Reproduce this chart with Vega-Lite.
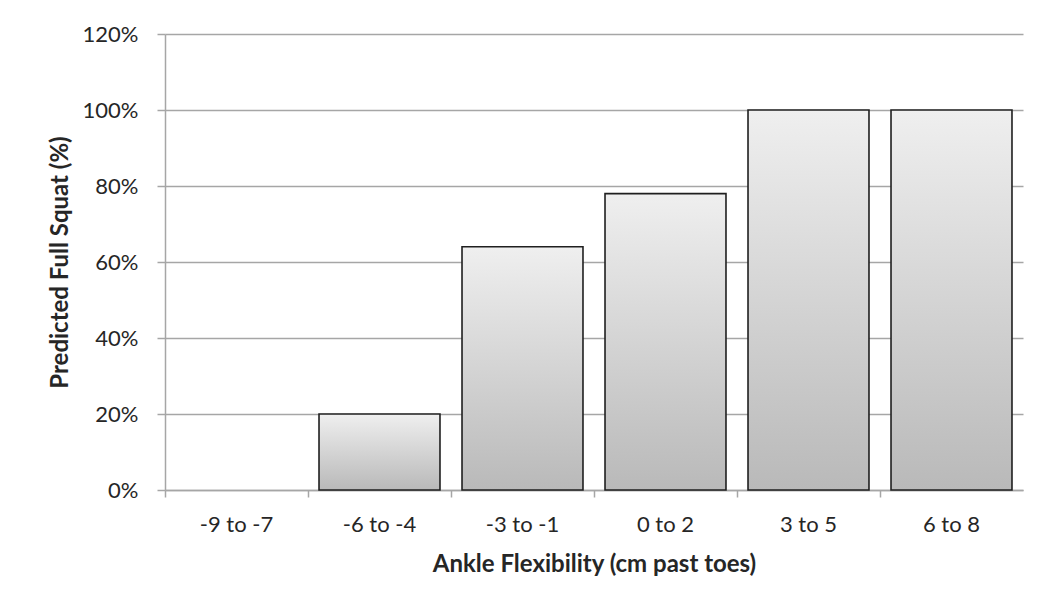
{
  "$schema": "https://vega.github.io/schema/vega-lite/v6.json",
  "width": 858,
  "height": 456,
  "autosize": "none",
  "padding": {"left": 165, "top": 34, "right": 20, "bottom": 121},
  "background": "#ffffff",
  "data": {
    "values": [
      {"range": "-9 to -7", "pct": 0},
      {"range": "-6 to -4", "pct": 20},
      {"range": "-3 to -1", "pct": 64},
      {"range": "0 to 2", "pct": 78},
      {"range": "3 to 5", "pct": 100},
      {"range": "6 to 8", "pct": 100}
    ]
  },
  "transform": [{"filter": "datum.pct > 0"}],
  "mark": {
    "type": "bar",
    "width": {"band": 0.846},
    "stroke": "#1f1f1f",
    "strokeWidth": 1.6,
    "fill": {
      "gradient": "linear",
      "x1": 0, "y1": 0, "x2": 0, "y2": 1,
      "stops": [
        {"offset": 0, "color": "#efefef"},
        {"offset": 1, "color": "#b9b9b9"}
      ]
    }
  },
  "encoding": {
    "x": {
      "field": "range",
      "type": "nominal",
      "sort": null,
      "scale": {
        "domain": ["-9 to -7", "-6 to -4", "-3 to -1", "0 to 2", "3 to 5", "6 to 8"],
        "paddingInner": 0,
        "paddingOuter": 0
      },
      "axis": {
        "title": "Ankle Flexibility (cm past toes)",
        "labelAngle": 0,
        "bandPosition": 0,
        "labelBound": false,
        "tickSize": 7,
        "labelPadding": 17,
        "titlePadding": 17,
        "grid": false
      }
    },
    "y": {
      "field": "pct",
      "type": "quantitative",
      "scale": {"domain": [0, 120], "nice": false},
      "axis": {
        "title": "Predicted Full Squat (%)",
        "values": [0, 20, 40, 60, 80, 100, 120],
        "labelExpr": "datum.value + '%'",
        "tickSize": 8,
        "labelPadding": 19,
        "titlePadding": 10,
        "grid": true
      }
    }
  },
  "config": {
    "view": {"stroke": null},
    "font": "Lato",
    "axis": {
      "domainColor": "#a6a6a6",
      "domainWidth": 1.5,
      "tickColor": "#a6a6a6",
      "tickWidth": 1.5,
      "gridColor": "#a6a6a6",
      "gridWidth": 1.5,
      "labelFont": "Lato",
      "labelFontSize": 22,
      "labelColor": "#262626",
      "titleFont": "Lato",
      "titleFontSize": 24,
      "titleFontWeight": "bold",
      "titleColor": "#262626"
    }
  }
}
